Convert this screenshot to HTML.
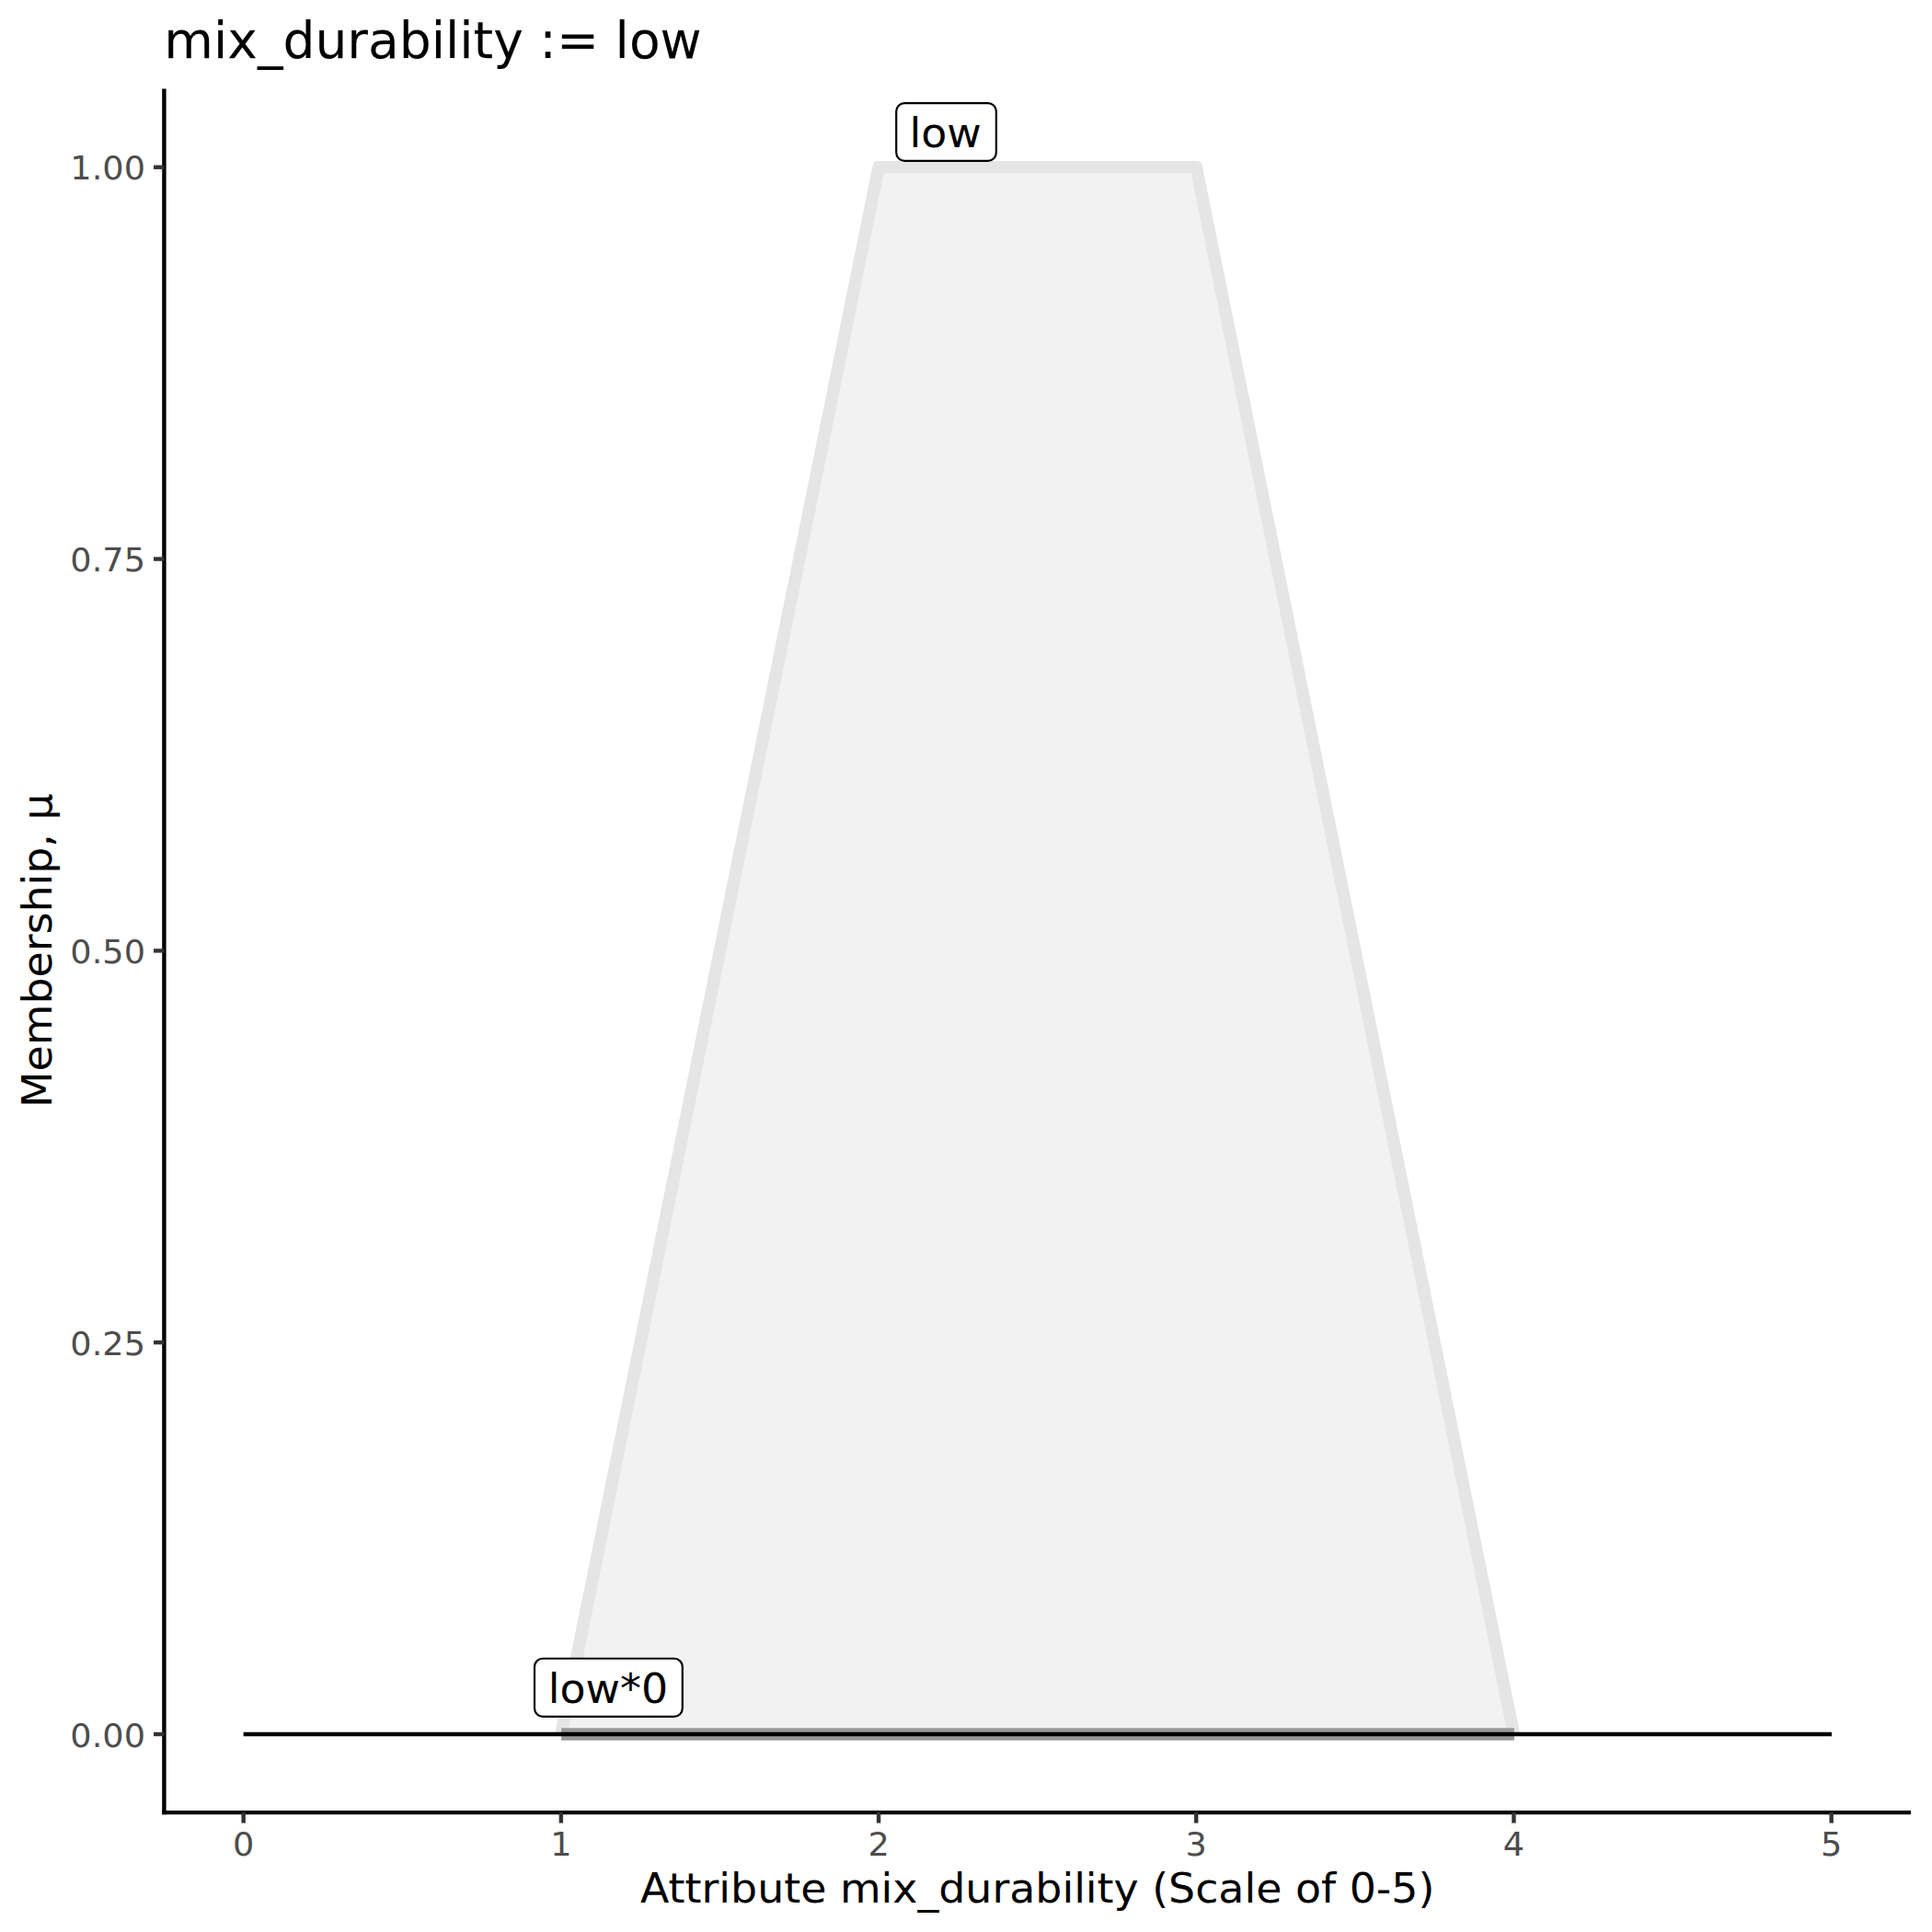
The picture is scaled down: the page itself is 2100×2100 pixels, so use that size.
<!DOCTYPE html>
<html lang="en">
<head>
<meta charset="utf-8">
<title>mix_durability := low</title>
<style>
  html, body { margin: 0; padding: 0; background: #ffffff; }
  body { width: 2100px; height: 2100px; overflow: hidden; }
  svg { display: block; }
  text { font-family: "DejaVu Sans", "Liberation Sans", sans-serif; }
  .tick { font-size: 36.67px; fill: #4d4d4d; }
  .axt { font-size: 45.83px; fill: #000000; }
  .lbl { font-size: 45.83px; fill: #000000; }
  .ttl { font-size: 55.1px; fill: #000000; }
</style>
</head>
<body>
<svg width="2100" height="2100" viewBox="0 0 2100 2100">
  <rect x="0" y="0" width="2100" height="2100" fill="#ffffff"/>

  <!-- membership trapezoid "low" -->
  <polygon points="609.85,1885 955.05,181.85 1300.25,181.85 1645.45,1885" fill="#f2f2f2"/>
  <polyline points="609.85,1885 955.05,181.85 1300.25,181.85 1645.45,1885" fill="none" stroke="#e5e5e5" stroke-width="13.5" stroke-linejoin="round" stroke-linecap="butt"/>

  <!-- scaled membership low*0 -->
  <line x1="610.1" y1="1885" x2="1645.9" y2="1885" stroke="#999999" stroke-width="13.66"/>

  <!-- zero line -->
  <line x1="264.65" y1="1885" x2="1990.95" y2="1885" stroke="#000000" stroke-width="4.45"/>

  <!-- labels -->
  <rect x="974.2" y="112.06" width="108.65" height="62.75" rx="9" ry="9" fill="#ffffff" stroke="#000000" stroke-width="2.2"/>
  <text class="lbl" transform="translate(988.6,159.9) scale(1,0.985)">low</text>

  <rect x="581" y="1802.75" width="160.8" height="63.1" rx="9" ry="9" fill="#ffffff" stroke="#000000" stroke-width="2.2"/>
  <text class="lbl" transform="translate(595.85,1851.1) scale(1,0.985)">low*0</text>

  <!-- axis lines -->
  <line x1="178.4" y1="96.5" x2="178.4" y2="1972.2" stroke="#000000" stroke-width="4.4"/>
  <line x1="176.2" y1="1970.1" x2="2077.1" y2="1970.1" stroke="#000000" stroke-width="4.4"/>

  <!-- y ticks -->
  <g stroke="#333333" stroke-width="4.4">
    <line x1="167" y1="1885.0" x2="178.4" y2="1885.0"/>
    <line x1="167" y1="1459.2" x2="178.4" y2="1459.2"/>
    <line x1="167" y1="1033.4" x2="178.4" y2="1033.4"/>
    <line x1="167" y1="607.6" x2="178.4" y2="607.6"/>
    <line x1="167" y1="181.75" x2="178.4" y2="181.75"/>
  </g>
  <g class="tick" text-anchor="end">
    <text transform="translate(158,1898.60) scale(1,0.955)">0.00</text>
    <text transform="translate(158,1472.80) scale(1,0.955)">0.25</text>
    <text transform="translate(158,1047.00) scale(1,0.955)">0.50</text>
    <text transform="translate(158,621.20) scale(1,0.955)">0.75</text>
    <text transform="translate(158,195.35) scale(1,0.955)">1.00</text>
  </g>

  <!-- x ticks -->
  <g stroke="#333333" stroke-width="4.4">
    <line x1="264.65" y1="1970.1" x2="264.65" y2="1981.6"/>
    <line x1="609.85" y1="1970.1" x2="609.85" y2="1981.6"/>
    <line x1="955.05" y1="1970.1" x2="955.05" y2="1981.6"/>
    <line x1="1300.25" y1="1970.1" x2="1300.25" y2="1981.6"/>
    <line x1="1645.45" y1="1970.1" x2="1645.45" y2="1981.6"/>
    <line x1="1990.65" y1="1970.1" x2="1990.65" y2="1981.6"/>
  </g>
  <g class="tick" text-anchor="middle">
    <text transform="translate(264.65,2016.72) scale(1,0.955)">0</text>
    <text transform="translate(609.85,2016.72) scale(1,0.955)">1</text>
    <text transform="translate(955.05,2016.72) scale(1,0.955)">2</text>
    <text transform="translate(1300.25,2016.72) scale(1,0.955)">3</text>
    <text transform="translate(1645.45,2016.72) scale(1,0.955)">4</text>
    <text transform="translate(1990.65,2016.72) scale(1,0.955)">5</text>
  </g>

  <!-- axis titles -->
  <text class="axt" transform="translate(1127.7,2067.9) scale(1,0.98)" text-anchor="middle">Attribute mix_durability (Scale of 0-5)</text>
  <text class="axt" transform="translate(55.9,1033.2) rotate(-90) scale(1,0.975)" text-anchor="middle">Membership, μ</text>

  <!-- plot title -->
  <text class="ttl" x="178.3" y="63.3">mix_durability := low</text>
</svg>
</body>
</html>
